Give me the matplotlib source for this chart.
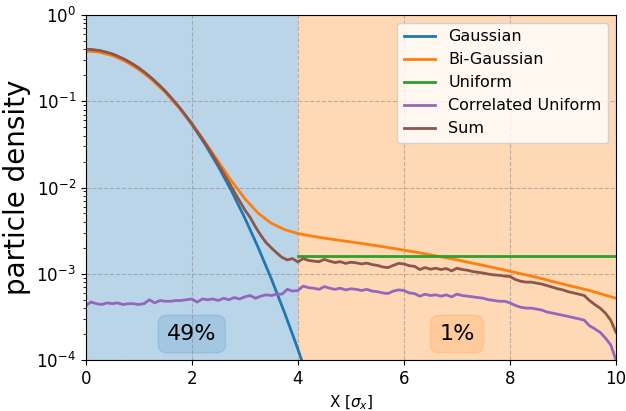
import numpy as np
import matplotlib
matplotlib.use("Agg")
import matplotlib.pyplot as plt

# values
x_g = [0, 0.25, 0.5, 0.75, 1.0, 1.25, 1.5, 1.75, 2.0, 2.25, 2.5, 2.75, 3.0,
       3.25, 3.5, 3.75, 4.0, 4.25]
gauss = [0.3989, 0.3867, 0.3521, 0.3011, 0.2420, 0.1826, 0.1295, 0.0863,
         0.0540, 0.0317, 0.0175, 0.00909, 0.00443, 0.00203, 0.000873,
         0.000353, 0.000134, 0.0000478]

x_bg = [0, 0.25, 0.5, 0.75, 1.0, 1.25, 1.5, 1.75, 2.0, 2.25, 2.5, 2.75, 3.0,
        3.25, 3.5, 3.75, 4.0, 4.25, 4.5, 4.75, 5.0, 5.5, 6.0, 6.5, 7.0, 7.5,
        8.0, 8.5, 9.0, 9.5, 10.0]
bigauss = [0.3829, 0.3713, 0.3383, 0.2898, 0.2337, 0.1772, 0.1267, 0.0856,
           0.0549, 0.0336, 0.0200, 0.0119, 0.00743, 0.00505, 0.00385, 0.00325,
           0.00293, 0.00274, 0.00259, 0.00246, 0.00234, 0.00211, 0.00188,
           0.00166, 0.00145, 0.00125, 0.00107, 0.00091, 0.00076, 0.00064,
           0.00052]

x_uni = [4.0, 10.0]
uniform = [0.00162, 0.00162]

x_n = [i / 10 for i in range(101)]
corr_uni = [4.3e-4, 4.7e-4, 4.5e-4, 4.4e-4, 4.6e-4, 4.5e-4, 4.6e-4, 4.4e-4,
            4.5e-4, 4.5e-4, 4.4e-4, 4.5e-4, 5.0e-4, 4.6e-4, 4.9e-4, 4.8e-4,
            4.8e-4, 4.9e-4, 4.9e-4, 5.0e-4, 5.1e-4, 4.7e-4, 5.1e-4, 5.0e-4,
            5.1e-4, 4.9e-4, 5.2e-4, 5.0e-4, 5.3e-4, 5.1e-4, 5.4e-4, 5.6e-4,
            5.2e-4, 5.5e-4, 5.7e-4, 5.6e-4, 5.8e-4, 5.8e-4, 6.6e-4, 6.3e-4,
            6.4e-4, 7.2e-4, 6.9e-4, 6.8e-4, 6.6e-4, 7.1e-4, 6.8e-4, 6.6e-4,
            6.8e-4, 6.5e-4, 6.7e-4, 6.6e-4, 6.4e-4, 6.6e-4, 6.3e-4, 6.2e-4,
            6.0e-4, 5.9e-4, 6.3e-4, 6.5e-4, 6.4e-4, 6.0e-4, 5.9e-4, 5.5e-4,
            5.8e-4, 5.6e-4, 5.7e-4, 5.5e-4, 5.7e-4, 5.4e-4, 5.8e-4, 5.6e-4,
            5.5e-4, 5.4e-4, 5.3e-4, 5.2e-4, 5.0e-4, 4.9e-4, 4.8e-4, 4.8e-4,
            4.6e-4, 4.3e-4, 4.1e-4, 4.0e-4, 4.0e-4, 3.9e-4, 3.8e-4, 3.6e-4,
            3.5e-4, 3.4e-4, 3.3e-4, 3.2e-4, 3.1e-4, 3.0e-4, 2.9e-4, 2.5e-4,
            2.3e-4, 2.1e-4, 1.8e-4, 1.5e-4, 1.0e-4]
total = [0.400, 0.398, 0.392, 0.382, 0.369, 0.353, 0.334, 0.313, 0.290, 0.267,
         0.243, 0.219, 0.195, 0.172, 0.151, 0.131, 0.112, 0.0950, 0.0800,
         0.0666, 0.0550, 0.0450, 0.0365, 0.0293, 0.0234, 0.0185, 0.0146,
         0.0115, 0.0089, 0.0070, 0.0055, 0.0045, 0.0035, 0.0028, 0.0023,
         0.0020, 0.00175, 0.00155, 0.00145, 0.00150, 0.00137, 0.00150,
         0.00143, 0.00140, 0.00138, 0.00147, 0.00140, 0.00135, 0.00138,
         0.00132, 0.00136, 0.00134, 0.00130, 0.00133, 0.00128, 0.00125,
         0.00120, 0.00118, 0.00125, 0.00132, 0.00130, 0.00124, 0.00122,
         0.00112, 0.00118, 0.00113, 0.00116, 0.00112, 0.00115, 0.00108,
         0.00116, 0.00112, 0.00110, 0.00106, 0.00104, 0.00102, 0.00099,
         0.00097, 0.00096, 0.00094, 0.00093, 0.00086, 0.00082, 0.00080,
         0.00080, 0.00078, 0.00076, 0.00073, 0.00070, 0.00067, 0.00065,
         0.00062, 0.00060, 0.00058, 0.00056, 0.00049, 0.00044, 0.00040,
         0.00035, 0.00029, 0.00021]

fig = plt.figure(figsize=(6.26, 4.11), dpi=100)
ax = fig.add_axes([0.137, 0.124, 0.847, 0.8395])

ax.axvspan(0, 4, color="C0", alpha=0.3, lw=0)
ax.axvspan(4, 10, color="C1", alpha=0.3, lw=0)

ax.plot(x_g, gauss, color="C0", lw=2, label="Gaussian")
ax.plot(x_bg, bigauss, color="C1", lw=2, label="Bi-Gaussian")
ax.plot(x_uni, uniform, color="C2", lw=2, label="Uniform")
ax.plot(x_n, corr_uni, color="C4", lw=2, label="Correlated Uniform")
ax.plot(x_n, total, color="C5", lw=2, label="Sum")

ax.set_yscale("log")
ax.set_xlim(0, 10)
ax.set_ylim(1e-4, 1)
ax.grid(True, which="major", ls="--", color="grey", alpha=0.5)
ax.tick_params(labelsize=12)
ax.set_xlabel(r"X [$\sigma_x$]", fontsize=11)
ax.set_ylabel("particle density", fontsize=20)

ax.text(2, 2.0e-4, "49%", fontsize=16, ha="center", va="center",
        bbox=dict(boxstyle="round,pad=0.4", fc="C0", ec="C0", alpha=0.15))
ax.text(7, 2.0e-4, "1%", fontsize=16, ha="center", va="center",
        bbox=dict(boxstyle="round,pad=0.4", fc="C1", ec="C1", alpha=0.15))

ax.legend(loc="upper right", fontsize=11.5)

plt.savefig("out.png")
